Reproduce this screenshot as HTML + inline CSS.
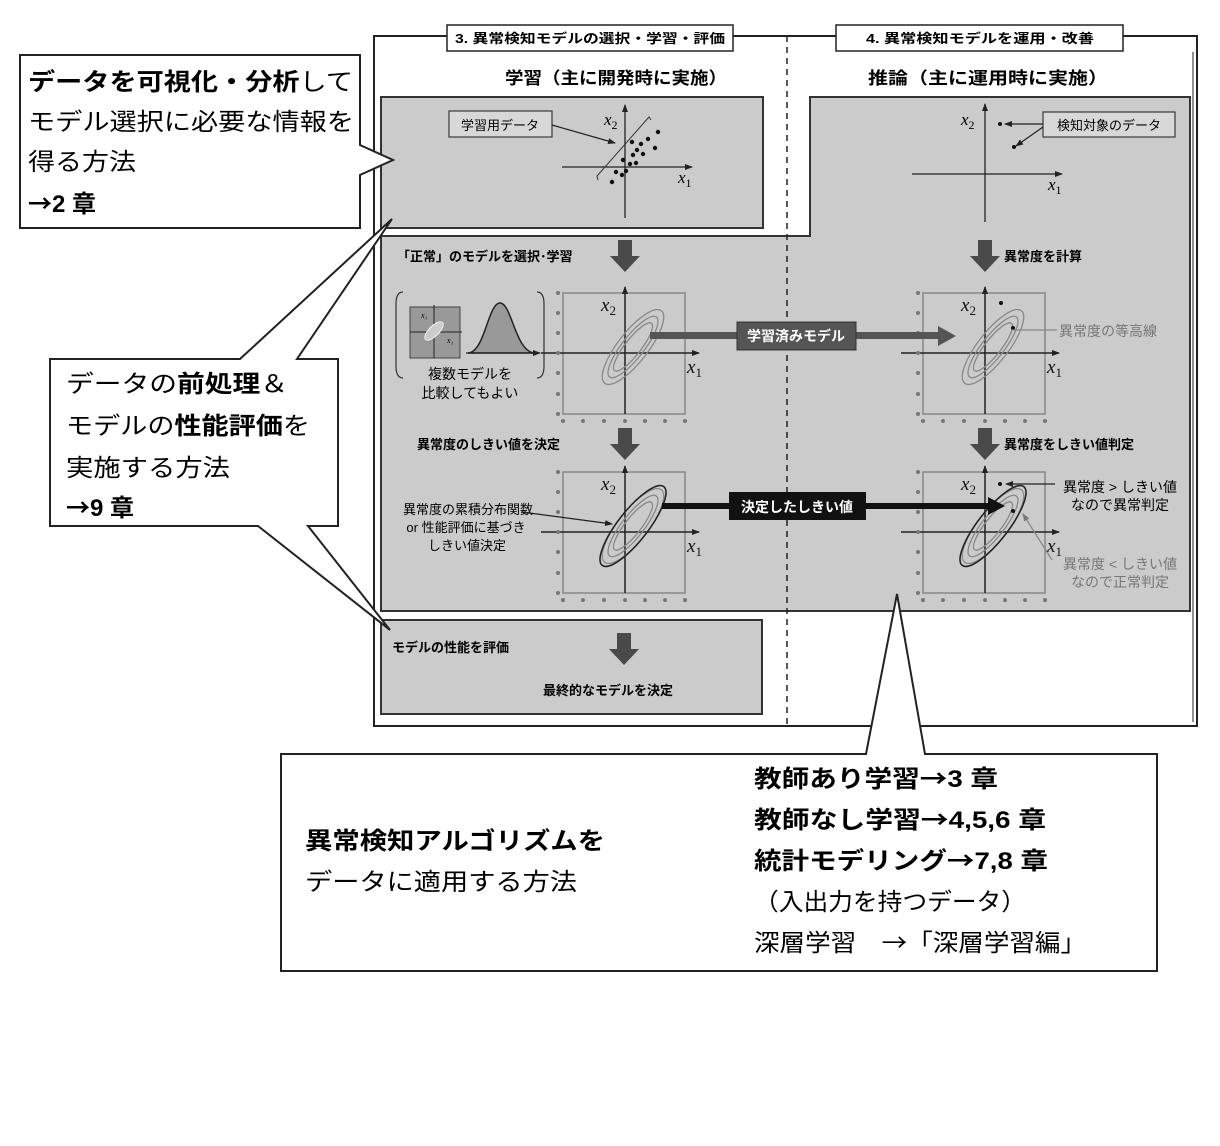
<!DOCTYPE html>
<html><head><meta charset="utf-8"><style>
html,body{margin:0;padding:0;background:#fff;}
svg{display:block;font-family:"Liberation Sans","Noto Sans CJK JP",sans-serif;}
.s{font-family:"Liberation Serif",serif;font-style:italic;}
.ar{font-family:"Noto Sans CJK JP",sans-serif;}
</style></head><body>
<svg width="1220" height="1146" viewBox="0 0 1220 1146" xmlns="http://www.w3.org/2000/svg">
<defs>
<marker id="ah" markerWidth="8" markerHeight="8" refX="7" refY="4" orient="auto" markerUnits="userSpaceOnUse"><path d="M0,1 L8,4 L0,7 z" fill="#222"/></marker>
<marker id="ahg" markerWidth="8" markerHeight="8" refX="7" refY="4" orient="auto" markerUnits="userSpaceOnUse"><path d="M0,1 L8,4 L0,7 z" fill="#777"/></marker>
<g id="plot">
<rect x="0" y="0" width="122" height="121" fill="none" stroke="#888" stroke-width="1.5"/>
<line x1="62" y1="121" x2="62" y2="-6" stroke="#222" stroke-width="1.5" marker-end="url(#ah)"/>
<line x1="-22" y1="60" x2="136" y2="60" stroke="#222" stroke-width="1.5" marker-end="url(#ah)"/>
<g fill="#777"><circle cx="-5" cy="0" r="2"/><circle cx="-5" cy="20" r="2"/><circle cx="-5" cy="40" r="2"/><circle cx="-5" cy="60" r="2"/><circle cx="-5" cy="80" r="2"/><circle cx="-5" cy="101" r="2"/><circle cx="-5" cy="121" r="2"/>
<circle cx="0" cy="128" r="2"/><circle cx="20" cy="128" r="2"/><circle cx="41" cy="128" r="2"/><circle cx="62" cy="128" r="2"/><circle cx="82" cy="128" r="2"/><circle cx="102" cy="128" r="2"/><circle cx="122" cy="128" r="2"/></g>
<text x="38" y="18" class="s" font-size="19" fill="#111">x<tspan font-size="13" dy="4" font-style="normal">2</tspan></text>
<text x="124" y="80" class="s" font-size="19" fill="#111">x<tspan font-size="13" dy="4" font-style="normal">1</tspan></text>
<g transform="translate(70,54) rotate(-52)" fill="none" stroke="#888" stroke-width="1.3"><ellipse rx="46" ry="15"/><ellipse rx="38" ry="11"/><ellipse rx="30" ry="8"/></g>
</g>
</defs>

<rect x="374" y="36" width="823" height="690" fill="none" stroke="#222" stroke-width="2"/>
<line x1="1193" y1="52" x2="1193" y2="722" stroke="#222" stroke-width="1"/>
<rect x="381" y="97" width="382" height="131" fill="#cbcbcb" stroke="#333" stroke-width="2"/>
<path d="M381,236 L810,236 L810,97 L1190,97 L1190,611 L381,611 Z" fill="#cbcbcb" stroke="#333" stroke-width="2"/>
<rect x="381" y="620" width="381" height="94" fill="#cbcbcb" stroke="#333" stroke-width="2"/>
<line x1="787" y1="36" x2="787" y2="726" stroke="#222" stroke-width="1.5" stroke-dasharray="6,5"/>
<rect x="447" y="25" width="286" height="26" fill="#fff" stroke="#222" stroke-width="1.5"/>
<text x="590" y="43" font-size="13" font-weight="bold" text-anchor="middle" textLength="270" lengthAdjust="spacingAndGlyphs">3. 異常検知モデルの選択・学習・評価</text>
<rect x="836" y="25" width="287" height="26" fill="#fff" stroke="#222" stroke-width="1.5"/>
<text x="980" y="43" font-size="13" font-weight="bold" text-anchor="middle" textLength="228" lengthAdjust="spacingAndGlyphs">4. 異常検知モデルを運用・改善</text>
<text x="616" y="84" font-size="17" font-weight="bold" text-anchor="middle" textLength="222" lengthAdjust="spacingAndGlyphs">学習（主に開発時に実施）</text>
<text x="988" y="84" font-size="17" font-weight="bold" text-anchor="middle" textLength="240" lengthAdjust="spacingAndGlyphs">推論（主に運用時に実施）</text>

<rect x="449" y="111" width="103" height="26" fill="#d8d8d8" stroke="#444" stroke-width="1.3"/>
<text x="500" y="130" font-size="13" text-anchor="middle">学習用データ</text>
<line x1="552" y1="125" x2="615" y2="143" stroke="#222" stroke-width="1.2" marker-end="url(#ah)"/>
<line x1="625" y1="218" x2="625" y2="105" stroke="#222" stroke-width="1.3" marker-end="url(#ah)"/>
<line x1="562" y1="167" x2="692" y2="167" stroke="#222" stroke-width="1.3" marker-end="url(#ah)"/>
<path d="M598,180 L597,176 L649,117 L651,120" fill="none" stroke="#333" stroke-width="1"/>
<text x="604" y="125" class="s" font-size="17">x<tspan font-size="12" dy="4" font-style="normal">2</tspan></text>
<text x="678" y="183" class="s" font-size="17">x<tspan font-size="12" dy="4" font-style="normal">1</tspan></text>
<g fill="#111"><circle cx="612" cy="182" r="2.2"/><circle cx="616" cy="172" r="2.2"/><circle cx="622" cy="175" r="2.2"/><circle cx="626" cy="171" r="2.2"/><circle cx="623" cy="160" r="2.2"/><circle cx="630" cy="164" r="2.2"/><circle cx="636" cy="163" r="2.2"/><circle cx="633" cy="155" r="2.2"/><circle cx="637" cy="150" r="2.2"/><circle cx="643" cy="154" r="2.2"/><circle cx="641" cy="144" r="2.2"/><circle cx="648" cy="139" r="2.2"/><circle cx="655" cy="148" r="2.2"/><circle cx="658" cy="132" r="2.2"/><circle cx="632" cy="142" r="2.2"/></g>

<line x1="985" y1="222" x2="985" y2="104" stroke="#222" stroke-width="1.3" marker-end="url(#ah)"/>
<line x1="912" y1="174" x2="1062" y2="174" stroke="#222" stroke-width="1.3" marker-end="url(#ah)"/>
<text x="961" y="125" class="s" font-size="17">x<tspan font-size="12" dy="4" font-style="normal">2</tspan></text>
<text x="1048" y="190" class="s" font-size="17">x<tspan font-size="12" dy="4" font-style="normal">1</tspan></text>
<circle cx="1000" cy="124" r="2" fill="#111"/><circle cx="1014" cy="147" r="2" fill="#111"/>
<rect x="1043" y="112" width="132" height="25" fill="#d8d8d8" stroke="#444" stroke-width="1.3"/>
<text x="1109" y="130" font-size="13" text-anchor="middle">検知対象のデータ</text>
<line x1="1043" y1="124" x2="1005" y2="124" stroke="#222" stroke-width="1.2" marker-end="url(#ah)"/>
<line x1="1043" y1="127" x2="1016" y2="146" stroke="#222" stroke-width="1.2" marker-end="url(#ah)"/>

<g fill="#4a4a4a">
<path d="M618,240 h14 v16 h8 l-15,16 l-15,-16 h8 z"/>
<path d="M978,240 h14 v16 h8 l-15,16 l-15,-16 h8 z"/>
<path d="M618,428 h14 v16 h8 l-15,16 l-15,-16 h8 z"/>
<path d="M978,428 h14 v16 h8 l-15,16 l-15,-16 h8 z"/>
<path d="M617,633 h14 v16 h8 l-15,16 l-15,-16 h8 z"/>
</g>
<text x="397" y="261" font-size="13" font-weight="bold">「正常」のモデルを選択･学習</text>
<text x="1004" y="261" font-size="13" font-weight="bold">異常度を計算</text>
<text x="417" y="449" font-size="13" font-weight="bold">異常度のしきい値を決定</text>
<text x="1004" y="449" font-size="13" font-weight="bold">異常度をしきい値判定</text>
<text x="392" y="652" font-size="13" font-weight="bold">モデルの性能を評価</text>
<text x="543" y="695" font-size="13" font-weight="bold">最終的なモデルを決定</text>

<path d="M403,292 q-7,0 -7,12 v62 q0,12 7,12" fill="none" stroke="#333" stroke-width="1.2"/>
<path d="M537,292 q7,0 7,12 v62 q0,12 -7,12" fill="none" stroke="#333" stroke-width="1.2"/>
<rect x="410" y="307" width="50" height="51" fill="#999" stroke="#444" stroke-width="1"/>
<line x1="434" y1="358" x2="434" y2="305" stroke="#222" stroke-width="1"/>
<line x1="410" y1="332" x2="462" y2="332" stroke="#222" stroke-width="1"/>
<ellipse cx="434" cy="331" rx="12" ry="5" transform="rotate(-45 434 331)" fill="#ccc" stroke="#eee"/>
<text x="421" y="318" font-size="8" class="s">x₁</text><text x="447" y="343" font-size="8" class="s">x₁</text>
<path d="M468,353 C485,352 488,303 500,303 C512,303 515,352 535,353 Z" fill="#999" stroke="#222" stroke-width="1.5"/>
<line x1="466" y1="353" x2="540" y2="353" stroke="#222" stroke-width="1.3" marker-end="url(#ah)"/>
<text x="470" y="379" font-size="14" text-anchor="middle">複数モデルを</text>
<text x="470" y="398" font-size="14" text-anchor="middle">比較してもよい</text>

<use href="#plot" x="563" y="293"/>
<use href="#plot" x="923" y="293"/>
<use href="#plot" x="563" y="472"/>
<use href="#plot" x="923" y="472"/>
<ellipse cx="633" cy="526" rx="50" ry="15" transform="rotate(-52 633 526)" fill="none" stroke="#222" stroke-width="1.5"/>
<ellipse cx="993" cy="526" rx="50" ry="15" transform="rotate(-52 993 526)" fill="none" stroke="#222" stroke-width="1.5"/>
<circle cx="1001" cy="303" r="2" fill="#111"/><circle cx="1013" cy="328" r="2" fill="#111"/>
<circle cx="1000" cy="484" r="2" fill="#111"/><circle cx="1013" cy="511" r="2" fill="#111"/>

<rect x="650" y="332" width="290" height="7" fill="#555"/>
<path d="M938,326 L956,336 L938,346 Z" fill="#555"/>
<rect x="737" y="322" width="119" height="28" fill="#555" stroke="#333"/>
<text x="796" y="341" font-size="14" font-weight="bold" fill="#fff" text-anchor="middle">学習済みモデル</text>
<line x1="1012" y1="330" x2="1057" y2="330" stroke="#888" stroke-width="1.2"/>
<text x="1059" y="336" font-size="14" fill="#777">異常度の等高線</text>
<rect x="662" y="503" width="330" height="6" fill="#111"/>
<path d="M988,497 L1005,506 L988,515 Z" fill="#111"/>
<rect x="729" y="492" width="137" height="28" fill="#111"/>
<text x="797" y="512" font-size="14" font-weight="bold" fill="#fff" text-anchor="middle">決定したしきい値</text>
<text x="468" y="514" font-size="13" text-anchor="middle">異常度の累積分布関数</text>
<text x="466" y="532" font-size="13" text-anchor="middle">or 性能評価に基づき</text>
<text x="467" y="550" font-size="13" text-anchor="middle">しきい値決定</text>
<line x1="522" y1="512" x2="612" y2="524" stroke="#222" stroke-width="1.2" marker-end="url(#ah)"/>
<line x1="1055" y1="484" x2="1006" y2="484" stroke="#222" stroke-width="1.2" marker-end="url(#ah)"/>
<text x="1120" y="492" font-size="14" text-anchor="middle">異常度 &gt; しきい値</text>
<text x="1120" y="510" font-size="14" text-anchor="middle">なので異常判定</text>
<line x1="1052" y1="560" x2="1023" y2="514" stroke="#888" stroke-width="1.2" marker-end="url(#ahg)"/>
<text x="1120" y="569" font-size="14" fill="#777" text-anchor="middle">異常度 &lt; しきい値</text>
<text x="1120" y="587" font-size="14" fill="#777" text-anchor="middle">なので正常判定</text>

<path d="M20,55 L360,55 L360,145 L393,160 L360,175 L360,228 L20,228 Z" fill="#fff" stroke="#222" stroke-width="2"/>
<text x="28" y="90" font-size="24" textLength="325" lengthAdjust="spacingAndGlyphs"><tspan font-weight="bold">データを可視化・分析</tspan>して</text>
<text x="28" y="130" font-size="24" textLength="326" lengthAdjust="spacingAndGlyphs">モデル選択に必要な情報を</text>
<text x="28" y="170" font-size="24" textLength="108" lengthAdjust="spacingAndGlyphs">得る方法</text>
<text x="28" y="212" font-size="24" font-weight="bold"><tspan class="ar">→</tspan>2 章</text>
<path d="M50,359 L240,359 L392,219 L297,359 L338,359 L338,526 L308,526 L390,630 L258,526 L50,526 Z" fill="#fff" stroke="#222" stroke-width="2"/>
<text x="66" y="392" font-size="24" textLength="222" lengthAdjust="spacingAndGlyphs">データの<tspan font-weight="bold">前処理</tspan>＆</text>
<text x="66" y="434" font-size="24" textLength="244" lengthAdjust="spacingAndGlyphs">モデルの<tspan font-weight="bold">性能評価</tspan>を</text>
<text x="66" y="476" font-size="24" textLength="164" lengthAdjust="spacingAndGlyphs">実施する方法</text>
<text x="66" y="516" font-size="24" font-weight="bold"><tspan class="ar">→</tspan>9 章</text>
<path d="M281,754 L866,754 L897,594 L925,754 L1157,754 L1157,971 L281,971 Z" fill="#fff" stroke="#222" stroke-width="2"/>
<text x="305" y="849" font-size="24" font-weight="bold" textLength="300" lengthAdjust="spacingAndGlyphs">異常検知アルゴリズムを</text>
<text x="305" y="890" font-size="24" textLength="272" lengthAdjust="spacingAndGlyphs">データに適用する方法</text>
<text x="754" y="787" font-size="24" font-weight="bold" textLength="244" lengthAdjust="spacingAndGlyphs">教師あり学習<tspan class="ar">→</tspan>3 章</text>
<text x="754" y="828" font-size="24" font-weight="bold" textLength="292" lengthAdjust="spacingAndGlyphs">教師なし学習<tspan class="ar">→</tspan>4,5,6 章</text>
<text x="754" y="869" font-size="24" font-weight="bold" textLength="294" lengthAdjust="spacingAndGlyphs">統計モデリング<tspan class="ar">→</tspan>7,8 章</text>
<text x="754" y="910" font-size="24" textLength="272" lengthAdjust="spacingAndGlyphs">（入出力を持つデータ）</text>
<text x="754" y="951" font-size="24" textLength="332" lengthAdjust="spacingAndGlyphs">深層学習　<tspan class="ar">→</tspan>「深層学習編」</text>
</svg>
</body></html>
